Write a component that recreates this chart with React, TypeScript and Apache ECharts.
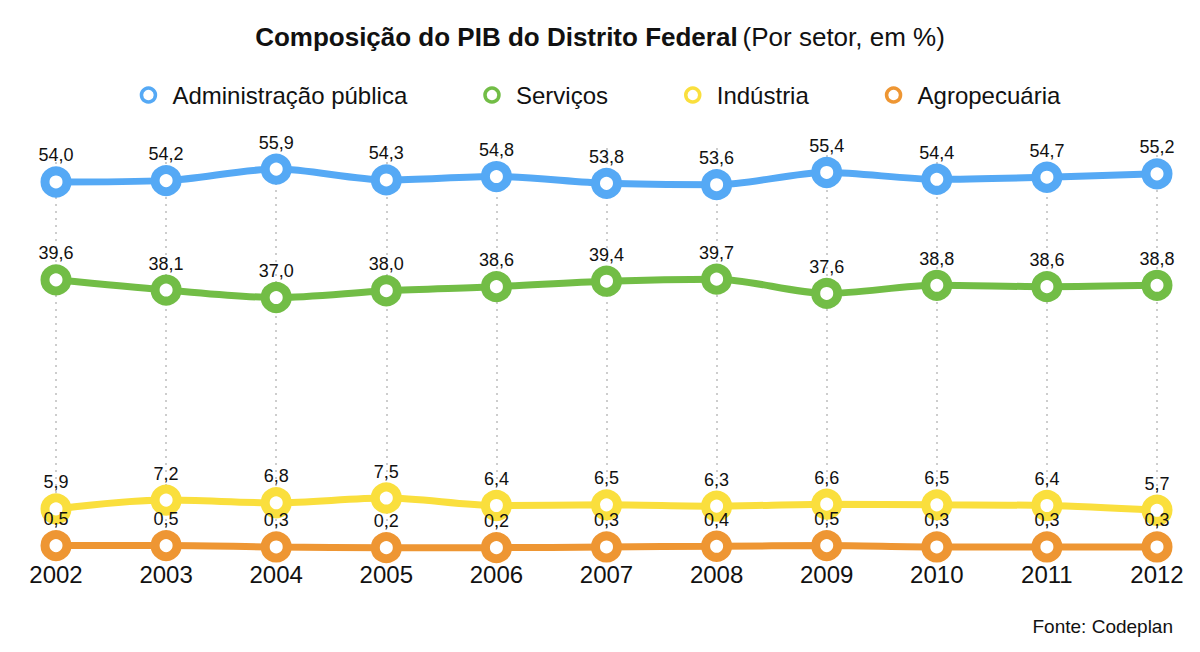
import React, { useEffect, useRef } from "react";
import * as echarts from "echarts";

const years = ["2002", "2003", "2004", "2005", "2006", "2007", "2008", "2009", "2010", "2011", "2012"];
const adminPublica = [54.0, 54.2, 55.9, 54.3, 54.8, 53.8, 53.6, 55.4, 54.4, 54.7, 55.2];
const servicos = [39.6, 38.1, 37.0, 38.0, 38.6, 39.4, 39.7, 37.6, 38.8, 38.6, 38.8];
const industria = [5.9, 7.2, 6.8, 7.5, 6.4, 6.5, 6.3, 6.6, 6.5, 6.4, 5.7];
const agropecuaria = [0.5, 0.5, 0.3, 0.2, 0.2, 0.3, 0.4, 0.5, 0.3, 0.3, 0.3];

const seriesNames = ["Administração pública", "Serviços", "Indústria", "Agropecuária"];
const seriesColors = ["#55A9F5", "#72BD46", "#FADF3D", "#EE9633"];

const FONT = "'Liberation Sans', Arial, Helvetica, sans-serif";

export default function App() {
  const ref = useRef<HTMLDivElement>(null);

  useEffect(() => {
    if (!ref.current) return;
    const chart = echarts.init(ref.current, undefined, { renderer: "svg" });
    const dataSets = [adminPublica, servicos, industria, agropecuaria];
    const series = dataSets.map((d, i) => ({
      name: seriesNames[i],
      type: "line",
      data: d,
      smooth: 0.3,
      symbol: "circle",
      symbolSize: 22,
      showAllSymbol: true,
      lineStyle: { width: 7, color: seriesColors[i] },
      itemStyle: { color: "#ffffff", borderColor: seriesColors[i], borderWidth: 9 },
      label: {
        show: true,
        position: "top",
        distance: 2,
        fontSize: 18,
        fontFamily: FONT,
        color: "#111",
        formatter: (p: any) => Number(p.value).toFixed(1).replace(".", ","),
      },
      emphasis: { disabled: true },
      z: 2 + i,
    }));

    chart.setOption({
      animation: false,
      backgroundColor: "#ffffff",
      textStyle: { fontFamily: FONT },
      title: {
        left: "center",
        top: 19,
        text: "{b|Composição do PIB do Distrito Federal} {n|(Por setor, em %)}",
        textStyle: {
          rich: {
            b: { fontSize: 26, fontWeight: "bold", color: "#111", fontFamily: FONT },
            n: { fontSize: 26, fontWeight: "normal", color: "#111", fontFamily: FONT },
          },
        },
      },
      graphic: [
        {
          type: "text",
          right: 27,
          top: 617,
          style: { text: "Fonte: Codeplan", fontSize: 19, fill: "#111", fontFamily: FONT },
        },
      ],
      legend: {
        top: 78,
        left: "center",
        icon: "circle",
        itemWidth: 14,
        itemHeight: 14,
        itemGap: 76,
        textStyle: { fontSize: 24, color: "#111", fontFamily: FONT, padding: [0, 0, 0, 12] },
        data: seriesNames.map((n, i) => ({
          name: n,
          itemStyle: { color: "#ffffff", borderColor: seriesColors[i], borderWidth: 3.5 },
        })),
      },
      grid: { left: 56, right: 43, top: 148, bottom: 103, containLabel: false },
      xAxis: {
        type: "category",
        data: years,
        boundaryGap: false,
        axisLine: { show: false },
        axisTick: { show: false },
        axisLabel: { fontSize: 24, color: "#111", margin: 13, fontFamily: FONT },
        splitLine: { show: true, lineStyle: { color: "#bdbdbd", type: [2, 5], width: 1.5 } },
      },
      yAxis: {
        type: "value",
        min: 0,
        max: 59,
        show: false,
        splitLine: { show: false },
      },
      series,
    });
    return () => chart.dispose();
  }, []);

  return (
    <div
      ref={ref}
      style={{ position: "absolute", left: 0, top: 0, width: 1200, height: 652, background: "#fff" }}
    />
  );
}
